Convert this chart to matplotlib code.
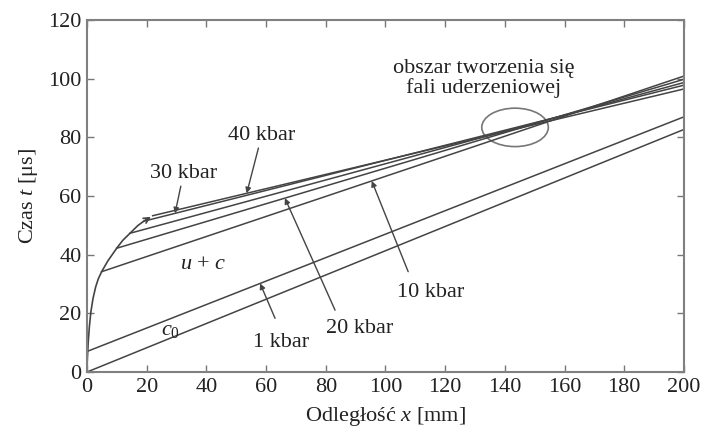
import numpy as np
import matplotlib.pyplot as plt
from matplotlib.patches import Ellipse

plt.rcParams['font.family'] = ['Liberation Serif', 'DejaVu Serif']
plt.rcParams['mathtext.fontset'] = 'custom'
plt.rcParams['mathtext.rm'] = 'Liberation Serif'
plt.rcParams['mathtext.it'] = 'Liberation Serif:italic'

# piston path (front of the compression wave)
curve_x = [0, 0.1, 0.4, 0.8, 1.3, 2.0, 2.9, 3.8, 4.9, 7.0, 9.95, 12.0, 14.4, 17.0, 19.0, 20.5, 22.2]
curve_t = [0, 4, 10, 15.5, 20.5, 25, 29, 31.8, 34.2, 37.9, 42.2, 44.9, 47.3, 49.9, 51.4, 52.4, 53.4]

# u + c characteristics leaving the piston path
char_start_x = [4.9, 9.95, 14.4, 19.0, 22.0]
char_end_t = [100.9, 99.8, 98.7, 97.8, 96.5]

# c0 and 1 kbar lines
c0_t = [0.0, 82.7]
kbar1_t = [7.0, 87.0]
x_lim = [0, 200]

text_col = '#222222'
line_col = '#444444'

fig = plt.figure(figsize=(7.05, 4.37), dpi=100)
ax = fig.add_axes([0.1234, 0.1487, 0.8468, 0.8055])

ax.plot(curve_x[:-1], curve_t[:-1], color=line_col, lw=1.2)
ax.annotate('', xy=(curve_x[-1], curve_t[-1]), xytext=(curve_x[-3], curve_t[-3]),
            arrowprops=dict(arrowstyle='->', color=line_col, lw=1.2, mutation_scale=10))

char_lines = []
for sx, et in zip(char_start_x, char_end_t):
    st = np.interp(sx, curve_x, curve_t)
    ax.plot([sx, 200], [st, et], color=line_col, lw=1.1)
    char_lines.append((sx, st, (et - st) / (200 - sx)))

ax.plot(x_lim, c0_t, color=line_col, lw=1.1)
ax.plot(x_lim, kbar1_t, color=line_col, lw=1.1)


def on_char(i, x):
    sx, st, k = char_lines[i]
    return (x, st + k * (x - sx))


def on_straight(t, x):
    return (x, t[0] + (t[1] - t[0]) * x / 200)


arrow = dict(arrowstyle='-|>', color=line_col, lw=1.0, mutation_scale=8, shrinkA=0, shrinkB=0)
fs = 16
ax.annotate('40 kbar', xy=on_char(4, 53.5), xytext=(58.5, 77.3), fontsize=fs, color=text_col,
            ha='center', va='bottom', arrowprops=arrow)
ax.annotate('30 kbar', xy=on_char(3, 29.5), xytext=(32.3, 64.3), fontsize=fs, color=text_col,
            ha='center', va='bottom', arrowprops=arrow)
ax.annotate('', xy=on_char(1, 66.3), xytext=(83.1, 21.1), arrowprops=arrow)
ax.text(91.5, 14.7, '20 kbar', fontsize=fs, color=text_col, ha='center', va='center')
ax.annotate('', xy=on_char(0, 95.4), xytext=(107.6, 34.2), arrowprops=arrow)
ax.text(115.2, 27.1, '10 kbar', fontsize=fs, color=text_col, ha='center', va='center')
ax.annotate('', xy=on_straight(kbar1_t, 58), xytext=(63, 18.3), arrowprops=arrow)
ax.text(65, 10, '1 kbar', fontsize=fs, color=text_col, ha='center', va='center')

ax.text(38.9, 36.8, '$u$ + $c$', fontsize=fs, color=text_col, ha='center', va='center')
ax.text(28, 14.3, '$c_0$', fontsize=fs, color=text_col, ha='center', va='center')
ax.text(133, 100.2, 'obszar tworzenia się\nfali uderzeniowej', fontsize=fs, color=text_col,
        ha='center', va='center', linespacing=1.0)
ax.add_patch(Ellipse((143.4, 83.4), 22.3, 13.1, fill=False, edgecolor='#777777', lw=1.2))

ax.set_xlim(0, 200)
ax.set_ylim(0, 120)
ax.set_xticks(np.arange(0, 201, 20))
ax.set_yticks(np.arange(0, 121, 20))
ax.tick_params(direction='in', length=5, width=1, color='#777777', labelsize=fs,
               labelcolor=text_col, top=True, right=True, pad=4)
for s in ax.spines.values():
    s.set_color('#808080')
    s.set_linewidth(1.5)

ax.set_xlabel('Odległość $x$ [mm]', fontsize=fs, color=text_col, labelpad=6)
ax.set_ylabel('Czas $t$ [μs]', fontsize=fs, color=text_col, labelpad=6)

fig.savefig('out.png', dpi=100)
